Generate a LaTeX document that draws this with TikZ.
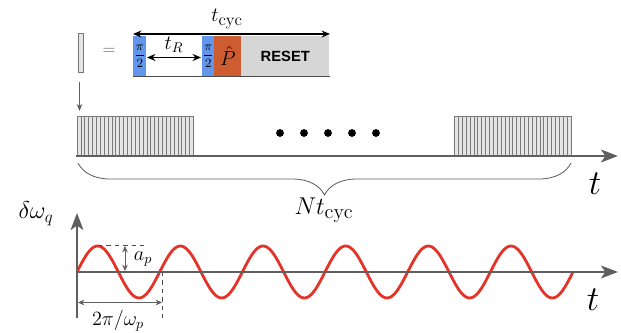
\documentclass[tikz,border=0pt]{standalone}
\usepackage{fontspec}
\newfontfamily\resetfont{Liberation Sans}
\usetikzlibrary{arrows.meta,positioning,decorations.pathreplacing}
\definecolor{axisgray}{RGB}{95,95,95}
\definecolor{pulseblue}{RGB}{98,150,236}
\definecolor{probeorange}{RGB}{205,92,48}
\definecolor{resetgray}{RGB}{214,214,214}
\definecolor{sinered}{RGB}{228,52,42}
\definecolor{stripegray}{RGB}{120,120,120}
\newcommand{\fs}[1]{\fontsize{#1}{#1}\selectfont}

\begin{document}
\begin{tikzpicture}[x=0.025cm, y=-0.025cm,
    axis/.style={line width=2.1pt, axisgray, -{Stealth[length=12pt,width=9pt,inset=3pt]}},
    dimarr/.style={line width=0.6pt, axisgray, {Stealth[length=4.5pt,width=4pt]}-{Stealth[length=4.5pt,width=4pt]}},
    blackarr/.style={line width=1.1pt, {Stealth[length=6pt,width=5pt]}-{Stealth[length=6pt,width=5pt]}},
    guide/.style={dashed, line width=0.5pt, black!70},
    stripe/.style={draw=stripegray, fill=black!10, line width=0.45pt},
    seqbox/.style={draw=none, minimum height=40*0.025cm, inner sep=0pt, anchor=north west},
    sine/.style={line width=2pt, sinered},
    lbl/.style={inner sep=0pt}
  ]
  \useasboundingbox (0,0) rectangle (621,333);

  % one pulse cycle
  \draw[stripe] (78,33) rectangle (83,72);
  \node[lbl, text=axisgray] (eq) at (109,51) {\fs{12}$=$};
  \coordinate (barbot) at (79.5,82);
  \coordinate (traintop) at (79.5,111);
  \draw[line width=0.6pt, axisgray, -{Stealth[length=5pt,width=4pt]}] (barbot) -- (traintop);

  \node[seqbox, fill=pulseblue, minimum width=13*0.025cm] (pa) at (133,36)
    {\fs{9}$\displaystyle\frac{\pi}{2}$};
  \node[seqbox, fill=white, minimum width=56*0.025cm] (wait) at (146,36) {};
  \node[seqbox, fill=pulseblue, minimum width=12*0.025cm] (pb) at (202,36)
    {\fs{9}$\displaystyle\frac{\pi}{2}$};
  \node[seqbox, fill=probeorange, minimum width=27*0.025cm] (probe) at (214,36)
    {\fs{14.4}$\hat{P}$};
  \node[seqbox, fill=resetgray, minimum width=88*0.025cm] (reset) at (241,36)
    {\resetfont\bfseries\fs{10.5}RESET};
  \draw[line width=0.9pt, axisgray!80!black] (pa.south west) -- (reset.south east);

  \coordinate (cycL) at (133,34);
  \coordinate (cycR) at (330,34);
  \draw[blackarr] (cycL) -- (cycR);
  \node[lbl] (tcyc) at (227,19) {\fs{14.4}$t_{\mbox{\fs{12}cyc}}$};
  \coordinate (tRL) at (147,57.5);
  \coordinate (tRR) at (201,57.5);
  \draw[blackarr] (tRL) -- (tRR);
  \node[lbl] (tR) at (174,45) {\fs{14.4}$t_R$};

  % pulse train
  \foreach \xs in {77,454.5}
    \foreach \i in {0,...,29}
      \draw[stripe] (\xs+\i*3.88,116) rectangle ++(3.88,40);
  \foreach \xd in {280,304,328,352,376}
    \fill (\xd,133) circle (3.9);
  \coordinate (trainstart) at (76,156);
  \coordinate (trainend) at (618,156);
  \draw[axis] (trainstart) -- (trainend);
  \node[lbl] (t1) at (595,184) {\fs{24.88}$t$};
  \draw[decorate, decoration={brace, mirror, amplitude=0.8cm}, line width=0.6pt, axisgray]
    (78,163) -- (571,163);
  \node[lbl] (ncyc) at (324,210) {\fs{17.28}$Nt_{\mbox{\fs{14.4}cyc}}$};

  % frequency modulation
  \coordinate (origin) at (77,272);
  \coordinate (ybot) at (77,318);
  \coordinate (ytop) at (77,213);
  \coordinate (xend) at (618,272);
  \draw[sine] plot[domain=77:573, samples=240] (\x, {272-26*sin((\x-77)/82.67*360)});
  \draw[axis] (ybot) -- (ytop);
  \draw[axis] (origin) -- (xend);
  \node[lbl] (dwq) at (36,214) {\fs{17.28}$\delta\omega_q$};
  \node[lbl] (t2) at (593,300) {\fs{24.88}$t$};

  \coordinate (peak) at (98,245);
  \draw[guide] (peak) -- (147,245);
  \coordinate (apTop) at (125,246);
  \coordinate (apBot) at (125,271);
  \draw[dimarr] (apTop) -- (apBot);
  \node[lbl] (ap) at (143,259) {\fs{14.4}$a_p$};

  \coordinate (perTop) at (162.3,272);
  \coordinate (perBot) at (162.3,318);
  \draw[guide] (perTop) -- (perBot);
  \coordinate (perL) at (78,302.5);
  \coordinate (perR) at (162,302.5);
  \draw[dimarr] (perL) -- (perR);
  \node[lbl] (period) at (118,321) {\fs{14.4}$2\pi/\omega_p$};
\end{tikzpicture}
\end{document}
